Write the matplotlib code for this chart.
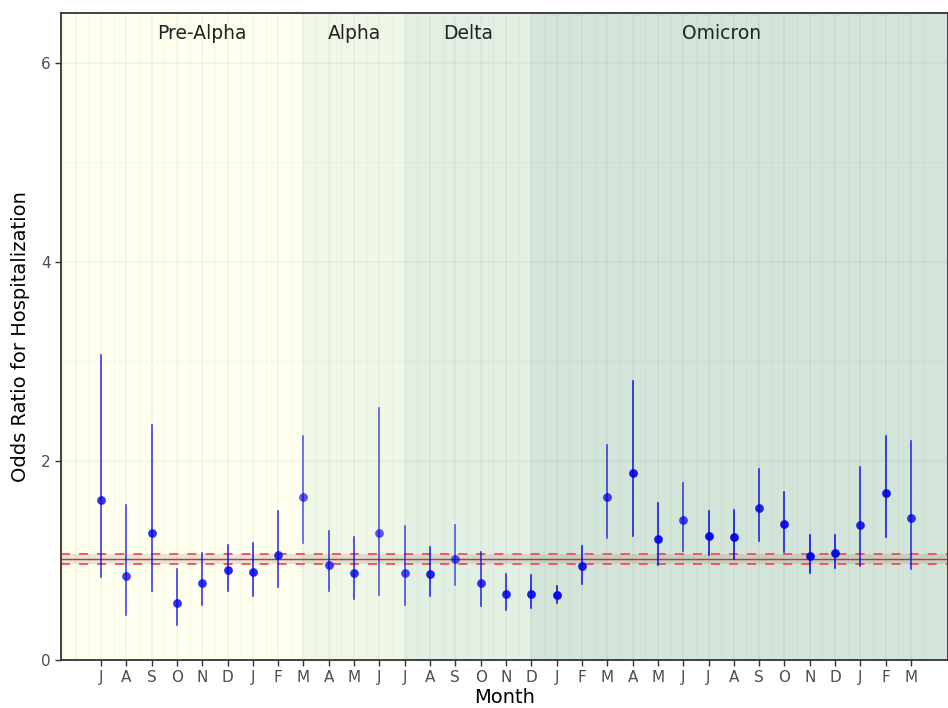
import numpy as np
import matplotlib
matplotlib.use("Agg")
import matplotlib.pyplot as plt

# month labels, Jul 2020 .. Mar 2023
months = ["J", "A", "S", "O", "N", "D", "J", "F", "M", "A", "M", "J",
          "J", "A", "S", "O", "N", "D", "J", "F", "M", "A", "M", "J",
          "J", "A", "S", "O", "N", "D", "J", "F", "M"]

odds = [1.61, 0.84, 1.28, 0.57, 0.77, 0.90, 0.88, 1.05, 1.64, 0.95, 0.87, 1.28,
        0.87, 0.86, 1.01, 0.77, 0.66, 0.66, 0.65, 0.94, 1.64, 1.88, 1.22, 1.41,
        1.25, 1.24, 1.53, 1.37, 1.04, 1.08, 1.36, 1.68, 1.43]
lower = [0.83, 0.45, 0.69, 0.35, 0.55, 0.69, 0.64, 0.73, 1.18, 0.69, 0.61, 0.65,
         0.55, 0.64, 0.75, 0.54, 0.50, 0.52, 0.57, 0.76, 1.23, 1.25, 0.95, 1.10,
         1.05, 1.01, 1.20, 1.09, 0.87, 0.92, 0.94, 1.24, 0.91]
upper = [3.06, 1.56, 2.36, 0.91, 1.08, 1.16, 1.18, 1.50, 2.25, 1.30, 1.24, 2.53,
         1.35, 1.14, 1.36, 1.09, 0.86, 0.85, 0.74, 1.15, 2.16, 2.80, 1.58, 1.78,
         1.50, 1.51, 1.92, 1.69, 1.26, 1.26, 1.94, 2.25, 2.20]
# opacity of each estimate as it looks in the picture
alphas = [0.8, 0.75, 0.8, 0.8, 0.8, 0.85, 0.85, 0.8, 0.65, 0.75, 0.8, 0.65,
          0.7, 0.85, 0.65, 0.8, 0.85, 0.9, 0.95, 0.9, 0.75, 0.9, 0.9, 0.75,
          0.95, 0.95, 0.85, 0.9, 0.95, 0.95, 0.85, 0.9, 0.8]

overall = 1.01
overall_lo = 0.96
overall_hi = 1.06

# variant periods: name, start index, end index (1-based month positions)
periods = ["Pre-Alpha", "Alpha", "Delta", "Omicron"]
period_start = [1, 9, 13, 18]
period_end = [9, 13, 18, 33]
period_colors = ["#fffff0", "#eff8e6", "#e2f0e3", "#d3e5d8"]

x = np.arange(1, len(months) + 1)
xmin, xmax = -0.58, 34.46

fig = plt.figure(figsize=(9.48, 7.08), dpi=100)
ax = fig.add_axes([0.0643, 0.0678, 0.9357, 0.9138])
ax.set_xlim(xmin, xmax)
ax.set_ylim(0, 6.5)

for i, name in enumerate(periods):
    a = period_start[i] if i > 0 else xmin
    b = period_end[i] if i < len(periods) - 1 else xmax
    ax.axvspan(a, b, color=period_colors[i], zorder=0.1, lw=0)
    ax.text((period_start[i] + period_end[i]) / 2, 6.29, name, ha="center",
            va="center", fontsize=13.5, color="#222222", zorder=5)

# grid
gmaj, gmin = 0.035, 0.025
for v in x:
    ax.axvline(v, color="black", alpha=gmaj, lw=1.4, zorder=0.5)
    ax.axvline(v + 0.5, color="black", alpha=gmin, lw=0.9, zorder=0.5)
ax.axvline(x[0] - 0.5, color="black", alpha=gmin, lw=0.9, zorder=0.5)
ax.axvline(x[0] - 1.0, color="black", alpha=gmaj, lw=1.4, zorder=0.5)
ax.axvline(x[0] - 1.5, color="black", alpha=gmin, lw=0.9, zorder=0.5)
for v in [0, 2, 4, 6]:
    ax.axhline(v, color="black", alpha=gmaj, lw=1.4, zorder=0.5)
for v in [1, 3, 5]:
    ax.axhline(v, color="black", alpha=gmin, lw=0.9, zorder=0.5)

# overall estimate
ax.axhspan(overall_lo, overall_hi, color="gray", alpha=0.2, lw=0, zorder=1)
ax.axhline(overall, color="#dd2a2a", lw=1.0, zorder=2)
ax.axhline(overall_lo, color="#ee5050", lw=1.3, ls=(0, (5, 5)), zorder=2)
ax.axhline(overall_hi, color="#ee5050", lw=1.3, ls=(0, (5, 5)), zorder=2)

for i in range(len(x)):
    ax.plot([x[i], x[i]], [lower[i], upper[i]], color="#0000ee",
            alpha=alphas[i], lw=1.15, zorder=3)
    ax.plot(x[i], odds[i], "o", color="#0000ee", alpha=alphas[i],
            markersize=6.3, mec="none", zorder=4)

ax.set_xticks(x)
ax.set_xticklabels(months)
ax.set_yticks([0, 2, 4, 6])
ax.tick_params(axis="both", colors="#333333", labelcolor="#4d4d4d",
               labelsize=11, length=4, width=1)
ax.set_xlabel("Month", fontsize=14, labelpad=2)
ax.set_ylabel("Odds Ratio for Hospitalization", fontsize=14, labelpad=8)
for s in ax.spines.values():
    s.set_color("#333333")
    s.set_linewidth(1.3)

fig.savefig("out.png", dpi=100)
